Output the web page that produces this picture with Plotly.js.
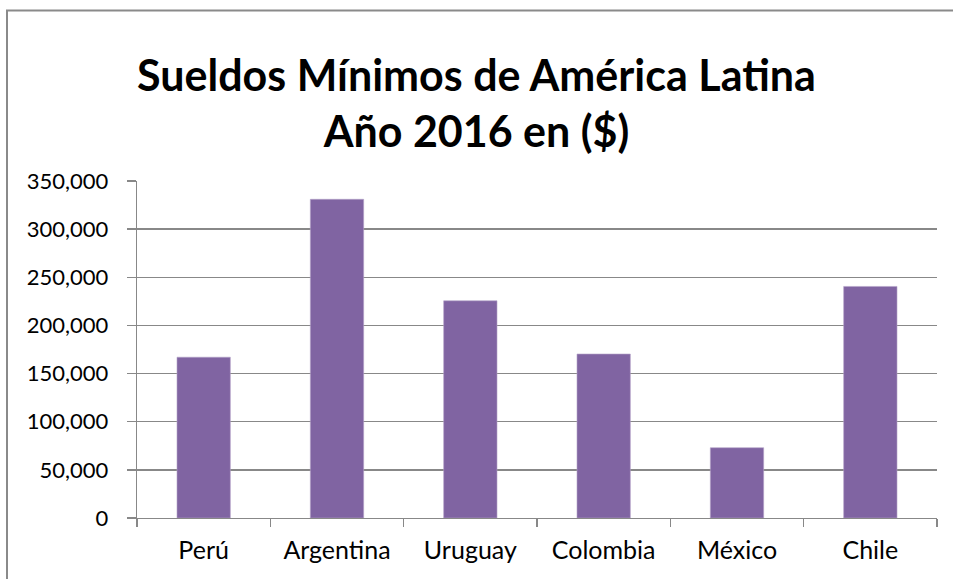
<!DOCTYPE html>
<html>
<head>
<meta charset="utf-8">
<script src="https://cdn.plot.ly/plotly-3.0.1.min.js"></script>
<style>
  html, body { margin: 0; padding: 0; background: #fff; overflow: hidden; }
  #chart { width: 953px; height: 579px; }
</style>
</head>
<body>
<div id="chart"></div>
<script>
const countries = ["Perú", "Argentina", "Uruguay", "Colombia", "México", "Chile"];
const minWages = [167000, 331000, 225600, 170300, 73000, 240500];
const yTickValues = [0, 50000, 100000, 150000, 200000, 250000, 300000, 350000];
const titleText = "Sueldos Mínimos de América Latina<br>Año 2016 en ($)";

const trace = {
  type: "bar",
  x: countries,
  y: minWages,
  width: 0.4,
  marker: { color: "#8064A2", line: { color: "#b3a2c7", width: 0.6 } },
  hoverinfo: "skip"
};

const layout = {
  width: 953,
  height: 579,
  margin: { l: 137, r: 16, t: 181, b: 61, pad: 0 },
  paper_bgcolor: "#ffffff",
  plot_bgcolor: "#ffffff",
  showlegend: false,
  font: { family: "Lato, 'Open Sans', sans-serif", color: "#000" },
  title: {
    text: titleText,
    font: { family: "Lato, 'Open Sans', sans-serif", size: 43, color: "#000", weight: "bold" },
    x: 0.5,
    xanchor: "center",
    xref: "container",
    y: 1 - 91 / 579,
    yanchor: "top",
    yref: "container"
  },
  xaxis: {
    type: "category",
    showgrid: false,
    showline: true,
    linecolor: "#888888",
    linewidth: 1.3,
    ticks: "outside",
    tickson: "boundaries",
    ticklen: 8,
    tickcolor: "#888888",
    tickwidth: 1.3,
    tickfont: { size: 25, color: "#000" },
    ticklabelstandoff: 10,
    fixedrange: true
  },
  yaxis: {
    range: [0, 350000],
    tickvals: yTickValues,
    tickformat: ",d",
    showgrid: true,
    gridcolor: "#888888",
    gridwidth: 1.3,
    zeroline: false,
    showline: true,
    linecolor: "#888888",
    linewidth: 1.3,
    ticks: "outside",
    ticklen: 9,
    tickcolor: "#888888",
    tickwidth: 1.3,
    tickfont: { size: 22, color: "#000" },
    ticklabelstandoff: 14,
    fixedrange: true
  },
  shapes: [{
    type: "rect",
    xref: "paper", yref: "paper",
    x0: (7 - 137) / 800, x1: 1.2,
    y0: -0.5, y1: (518.3 - 10) / 337.6,
    line: { color: "#8a8a8a", width: 2 },
    fillcolor: "rgba(0,0,0,0)",
    layer: "below"
  }]
};

Plotly.newPlot("chart", [trace], layout, { displayModeBar: false, staticPlot: true });
</script>
</body>
</html>
